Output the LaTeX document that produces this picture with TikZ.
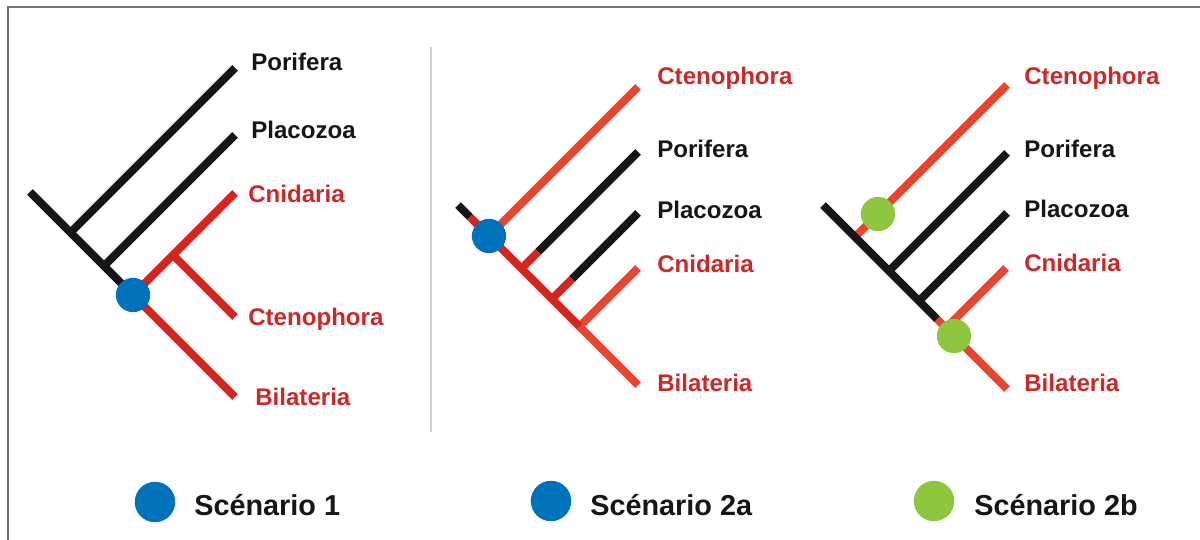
\documentclass[tikz,border=0pt]{standalone}
\usepackage{fontspec}
\setmainfont{Liberation Sans}
\usetikzlibrary{positioning}
\definecolor{myRed}{RGB}{214,36,30}
\definecolor{myLightRed}{RGB}{232,70,48}
\definecolor{myTextRed}{RGB}{204,40,40}
\definecolor{myBlue}{RGB}{0,114,188}
\definecolor{myGreen}{RGB}{141,198,63}
\definecolor{myBlack}{RGB}{22,22,22}
\tikzset{blackBranch/.style={draw=myBlack, line width=4.5pt}}
\tikzset{redBranch/.style={draw=myRed, line width=4.5pt}}
\tikzset{lightBranch/.style={draw=myLightRed, line width=4.5pt}}
\tikzset{blueDot/.style={shape=circle, fill=myBlue, inner sep=0pt, minimum size=19.5pt}}
\tikzset{greenDot/.style={blueDot, fill=myGreen}}
\tikzset{blackTaxon/.style={anchor=base west, inner sep=0pt, font=\fontsize{13.7}{16}\selectfont\bfseries, text=myBlack}}
\tikzset{redTaxon/.style={blackTaxon, text=myTextRed}}
\tikzset{legendDot/.style={shape=circle, inner sep=0pt, minimum size=23pt}}
\tikzset{legendText/.style={anchor=base west, inner sep=0pt, font=\fontsize{16.4}{19}\selectfont\bfseries, text=myBlack}}

\begin{document}
\begin{tikzpicture}[x=0.02cm, y=-0.02cm]

\useasboundingbox (0,0) rectangle (1200,540);

% frame and separator
\draw[draw=black!55, line width=0.9pt] (8,540) -- (8,7) -- (1200,7);
\draw[draw=black!18, line width=0.6pt] (431,47) -- (431,432);

% Scenario 1 tree
\coordinate (10) at (30,192);
\coordinate (11) at (70.5,232.5);
\coordinate (12) at (104,266);
\coordinate (13) at (133,295);
\coordinate (14) at (173,255);
\coordinate (15) at (235,68);
\coordinate (16) at (235,135);
\coordinate (17) at (235,193);
\coordinate (18) at (235,317);
\coordinate (19) at (235,397);

\draw[blackBranch] (10) -- (13);
\draw[blackBranch] (11) -- (15);
\draw[blackBranch] (12) -- (16);
\draw[redBranch] (13) -- (17);
\draw[redBranch] (14) -- (18);
\draw[redBranch] (13) -- (19);
\node[blueDot] (1d) at (13) {};

\node[blackTaxon] (1por) at (251,71) {Porifera};
\node[blackTaxon] (1pla) at (251,139) {Placozoa};
\node[redTaxon] (1cni) at (248,203) {Cnidaria};
\node[redTaxon] (1cte) at (248,326) {Ctenophora};
\node[redTaxon] (1bil) at (255,405) {Bilateria};

% Scenario 2a tree
\coordinate (20) at (458,205);
\coordinate (21) at (470,217);
\coordinate (22) at (489,236);
\coordinate (23) at (521.5,268.5);
\coordinate (24) at (538,252);
\coordinate (25) at (552,299);
\coordinate (26) at (572,279);
\coordinate (27) at (579.5,326.5);
\coordinate (28) at (638,87);
\coordinate (29) at (638,152);
\coordinate (210) at (638,213);
\coordinate (211) at (638,268);
\coordinate (212) at (638,385);

\draw[blackBranch] (20) -- (21);
\draw[lightBranch] (22) -- (28);
\draw[blackBranch] (24) -- (29);
\draw[redBranch] (23) -- (24);
\draw[blackBranch] (26) -- (210);
\draw[redBranch] (25) -- (26);
\draw[lightBranch] (27) -- (211);
\draw[lightBranch] (27) -- (212);
\draw[redBranch] (21) -- (27);
\node[blueDot] (2d) at (22) {};

\node[redTaxon] (2cte) at (657,85) {Ctenophora};
\node[blackTaxon] (2por) at (657,158) {Porifera};
\node[blackTaxon] (2pla) at (657,219) {Placozoa};
\node[redTaxon] (2cni) at (657,273) {Cnidaria};
\node[redTaxon] (2bil) at (657,392) {Bilateria};

% Scenario 2b tree
\coordinate (30) at (823,205);
\coordinate (31) at (855,237);
\coordinate (32) at (889,271);
\coordinate (33) at (919,301);
\coordinate (34) at (937,319);
\coordinate (35) at (946,328);
\coordinate (36) at (878,214);
\coordinate (37) at (954,336);
\coordinate (38) at (1007,85);
\coordinate (39) at (1007,153);
\coordinate (310) at (1007,213);
\coordinate (311) at (1006,268);
\coordinate (312) at (1007,389);

\draw[lightBranch] (31) -- (38);
\draw[blackBranch] (32) -- (39);
\draw[blackBranch] (33) -- (310);
\draw[lightBranch] (35) -- (311);
\draw[lightBranch] (34) -- (312);
\draw[blackBranch] (30) -- (34);
\node[greenDot] (3d1) at (36) {};
\node[greenDot] (3d2) at (37) {};

\node[redTaxon] (3cte) at (1024,85) {Ctenophora};
\node[blackTaxon] (3por) at (1024,158) {Porifera};
\node[blackTaxon] (3pla) at (1024,218) {Placozoa};
\node[redTaxon] (3cni) at (1024,272) {Cnidaria};
\node[redTaxon] (3bil) at (1024,392) {Bilateria};

% legend
\node[legendDot, fill=myBlue] (l1) at (155,502) {};
\node[legendText] (l1t) at (194,515) {Scénario 1};
\node[legendDot, fill=myBlue] (l2) at (551,501) {};
\node[legendText] (l2t) at (590,515) {Scénario 2a};
\node[legendDot, fill=myGreen] (l3) at (934,501) {};
\node[legendText] (l3t) at (974,515) {Scénario 2b};

\end{tikzpicture}
\end{document}
